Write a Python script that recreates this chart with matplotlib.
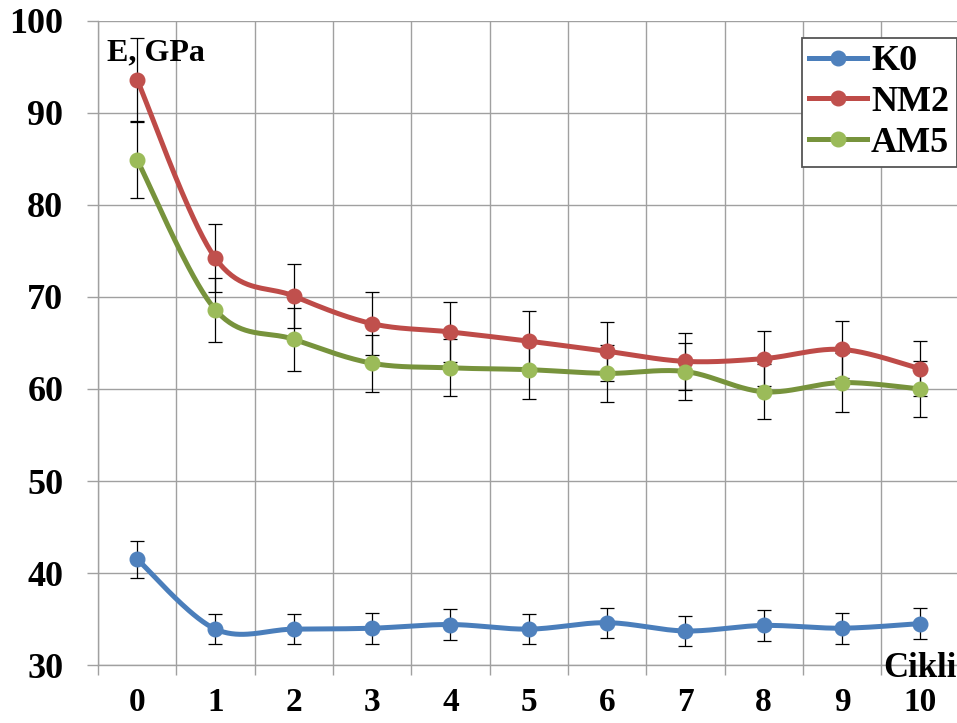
import numpy as np
import matplotlib
matplotlib.use("Agg")
import matplotlib.pyplot as plt
from matplotlib.lines import Line2D

plt.rcParams['font.family'] = ['Liberation Serif', 'DejaVu Serif']
plt.rcParams['font.weight'] = 'bold'

cycles = list(range(11))
tick_labels = [str(c) for c in cycles]

k0_vals = [41.5, 33.9, 33.9, 34.0, 34.4, 33.9, 34.6, 33.7, 34.3, 34.0, 34.5]
k0_err = [2.0, 1.65, 1.65, 1.7, 1.7, 1.65, 1.65, 1.65, 1.7, 1.7, 1.7]

nm2_vals = [93.6, 74.2, 70.1, 67.1, 66.2, 65.2, 64.1, 63.0, 63.3, 64.3, 62.2]
nm2_err = [4.5, 3.7, 3.5, 3.4, 3.3, 3.3, 3.2, 3.1, 3.0, 3.1, 3.0]

am5_vals = [84.9, 68.6, 65.4, 62.8, 62.3, 62.1, 61.7, 61.9, 59.7, 60.7, 60.0]
am5_err = [4.1, 3.5, 3.4, 3.1, 3.1, 3.2, 3.1, 3.1, 3.0, 3.2, 3.0]

series = [
    ("K0", k0_vals, k0_err, "#4a7ebb", "#4f81bd"),
    ("NM2", nm2_vals, nm2_err, "#be4b48", "#c0504d"),
    ("AM5", am5_vals, am5_err, "#77933c", "#9bbb59"),
]


def smooth(xs, ys, n=40):
    pts = np.column_stack([np.asarray(xs, float), np.asarray(ys, float)])
    out = []
    m = len(pts)
    for i in range(m - 1):
        p0 = pts[i - 1] if i > 0 else pts[i]
        p1 = pts[i]
        p2 = pts[i + 1]
        p3 = pts[i + 2] if i + 2 < m else pts[i + 1]
        c1 = p1 + (p2 - p0) / 6.0
        c2 = p2 - (p3 - p1) / 6.0
        t = np.linspace(0, 1, n)[:, None]
        seg = (1 - t) ** 3 * p1 + 3 * (1 - t) ** 2 * t * c1 + 3 * (1 - t) * t ** 2 * c2 + t ** 3 * p2
        out.append(seg if i == 0 else seg[1:])
    return np.vstack(out)


fig = plt.figure(figsize=(9.57, 7.23), dpi=100)
ax = fig.add_axes([98 / 957, 1 - 665 / 723, 861.5 / 957, (665 - 21) / 723])

grid_c = "#a0a0a0"
ax.set_xlim(-0.5, 10.5)
ax.set_ylim(30, 100)
ax.set_yticks(np.arange(30, 101, 10))
ax.set_xticks(cycles)
ax.set_xticklabels(tick_labels)
ax.set_xticks(np.arange(-0.5, 10.6, 1.0), minor=True)
ax.tick_params(axis='x', which='major', length=0, pad=15.5, labelsize=24)
ax.tick_params(axis='x', which='minor', length=7.5, width=1.0, color=grid_c, direction='out')
ax.tick_params(axis='y', which='major', length=8, width=1.0, color=grid_c, direction='out', pad=17, labelsize=26)
for lab in ax.get_xticklabels() + ax.get_yticklabels():
    lab.set_fontweight('bold')
ax.grid(True, axis='y', which='major', color=grid_c, linewidth=1.0)
ax.grid(True, axis='x', which='minor', color=grid_c, linewidth=1.0)
ax.grid(False, axis='x', which='major')
for s in ['top', 'right']:
    ax.spines[s].set_visible(False)
for s in ['left', 'bottom']:
    ax.spines[s].set_color(grid_c)
    ax.spines[s].set_linewidth(1.0)
ax.set_axisbelow(True)

handles = []
for name, vals, err, lc, mc in series:
    sm = smooth(cycles, vals)
    ax.plot(sm[:, 0], sm[:, 1], color=lc, linewidth=3.6, solid_capstyle='round', zorder=3, clip_on=False)
    ax.errorbar(cycles, vals, yerr=err, fmt='none', ecolor='black', elinewidth=0.9,
                capsize=5, capthick=0.9, zorder=4, clip_on=False)
    ax.plot(cycles, vals, linestyle='none', marker='o', markersize=10.5,
            markerfacecolor=mc, markeredgecolor=mc, zorder=5, clip_on=False)
    handles.append(Line2D([0], [0], color=lc, linewidth=3.6, marker='o', markersize=10.5,
                          markerfacecolor=mc, markeredgecolor=mc))

leg = fig.legend(handles, [s[0] for s in series], loc='upper right',
                 bbox_to_anchor=(956.5 / 957, 1 - 38 / 723), borderaxespad=0,
                 prop={'family': 'Liberation Serif', 'weight': 'bold', 'size': 26},
                 handlelength=1.6, handletextpad=0.12, labelspacing=0.2,
                 borderpad=0.2, frameon=True, fancybox=False)
leg.get_frame().set_edgecolor('#555555')
leg.get_frame().set_linewidth(1.3)
leg.get_frame().set_facecolor('white')
leg.get_frame().set_alpha(1.0)

fig.text(107 / 957, 1 - 60 / 723, "E, GPa", fontsize=23, fontweight='bold', ha='left', va='baseline')
fig.text(957 / 957, 1 - 677 / 723, "Cikli", fontsize=25, fontweight='bold', ha='right', va='baseline')

fig.savefig("out.png", dpi=100)
